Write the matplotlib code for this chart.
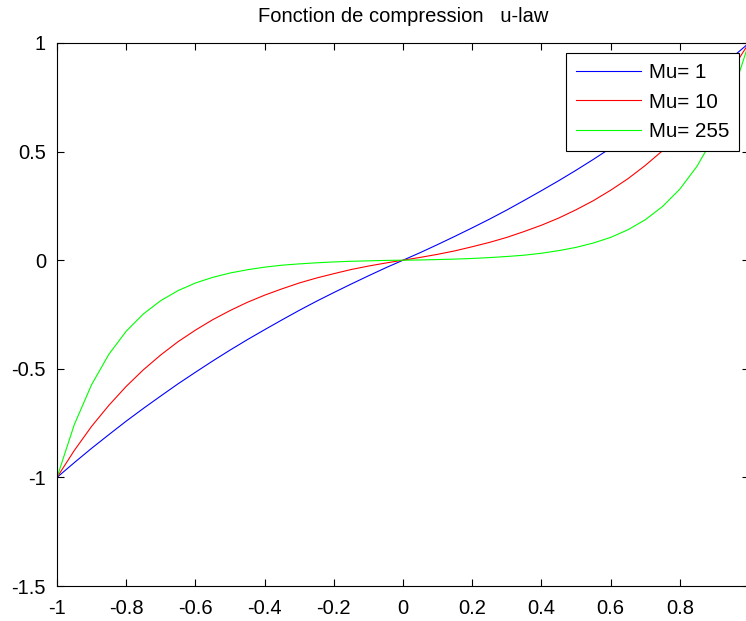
import matplotlib
matplotlib.use("Agg")
import matplotlib.pyplot as plt

plt.rcParams["font.family"] = ["Liberation Sans", "DejaVu Sans"]
plt.rcParams["axes.unicode_minus"] = False

# sample abscissa
x = [-1.00, -0.95, -0.90, -0.85, -0.80, -0.75, -0.70, -0.65, -0.60, -0.55,
     -0.50, -0.45, -0.40, -0.35, -0.30, -0.25, -0.20, -0.15, -0.10, -0.05,
     0.00, 0.05, 0.10, 0.15, 0.20, 0.25, 0.30, 0.35, 0.40, 0.45,
     0.50, 0.55, 0.60, 0.65, 0.70, 0.75, 0.80, 0.85, 0.90, 0.95, 1.00]

y_mu1 = [-1.000, -0.932, -0.866, -0.803, -0.741, -0.682, -0.625, -0.569, -0.516, -0.464,
         -0.414, -0.366, -0.320, -0.275, -0.231, -0.189, -0.149, -0.110, -0.072, -0.035,
         0.000, 0.035, 0.072, 0.110, 0.149, 0.189, 0.231, 0.275, 0.320, 0.366,
         0.414, 0.464, 0.516, 0.569, 0.625, 0.682, 0.741, 0.803, 0.866, 0.932, 1.000]

y_mu10 = [-1.000, -0.876, -0.765, -0.668, -0.581, -0.504, -0.436, -0.375, -0.322, -0.274,
          -0.232, -0.194, -0.161, -0.132, -0.105, -0.082, -0.062, -0.043, -0.027, -0.013,
          0.000, 0.013, 0.027, 0.043, 0.062, 0.082, 0.105, 0.132, 0.161, 0.194,
          0.232, 0.274, 0.322, 0.375, 0.436, 0.504, 0.581, 0.668, 0.765, 0.876, 1.000]

y_mu255 = [-1.000, -0.757, -0.573, -0.433, -0.327, -0.247, -0.186, -0.140, -0.105, -0.079,
           -0.059, -0.044, -0.032, -0.023, -0.017, -0.012, -0.008, -0.005, -0.003, -0.001,
           0.000, 0.001, 0.003, 0.005, 0.008, 0.012, 0.017, 0.023, 0.032, 0.044,
           0.059, 0.079, 0.105, 0.140, 0.186, 0.247, 0.327, 0.433, 0.573, 0.757, 1.000]

x_ticks = [-1, -0.8, -0.6, -0.4, -0.2, 0, 0.2, 0.4, 0.6, 0.8, 1]
# the last label falls past the right edge of the figure
x_labels = ["-1", "-0.8", "-0.6", "-0.4", "-0.2", "0", "0.2", "0.4", "0.6", "0.8", ""]
y_ticks = [-1.5, -1, -0.5, 0, 0.5, 1]
y_labels = ["-1.5", "-1", "-0.5", "0", "0.5", "1"]

fig = plt.figure(figsize=(7.46, 6.21), dpi=100)
ax = fig.add_axes([57 / 746, 35 / 621, 692 / 746, 543 / 621])

ax.plot(x, y_mu1, color="#0000ff", lw=0.8, label="Mu= 1")
ax.plot(x, y_mu10, color="#ff0000", lw=0.8, label="Mu= 10")
ax.plot(x, y_mu255, color="#00ff00", lw=0.8, label="Mu= 255")

ax.set_xlim(-1, 1)
ax.set_ylim(-1.5, 1)
ax.set_xticks(x_ticks)
ax.set_xticklabels(x_labels)
ax.set_yticks(y_ticks)
ax.set_yticklabels(y_labels)
ax.tick_params(direction="in", top=True, right=True, length=5, width=0.8,
               labelsize=14.5)
ax.tick_params(axis="x", pad=9)
ax.tick_params(axis="y", pad=8)
for s in ax.spines.values():
    s.set_linewidth(0.8)

ax.set_title("Fonction de compression   u-law", fontsize=14.5, pad=15)

leg = ax.legend(loc="upper left", bbox_to_anchor=(566 / 746, 1 - 53 / 621),
                bbox_transform=fig.transFigure, fontsize=14.8, frameon=True,
                fancybox=False, edgecolor="black", framealpha=1,
                handlelength=3.15, handletextpad=0.38, borderpad=0.5,
                labelspacing=0.5, borderaxespad=0)
leg.get_frame().set_linewidth(0.8)

fig.savefig("out.png", dpi=100)
